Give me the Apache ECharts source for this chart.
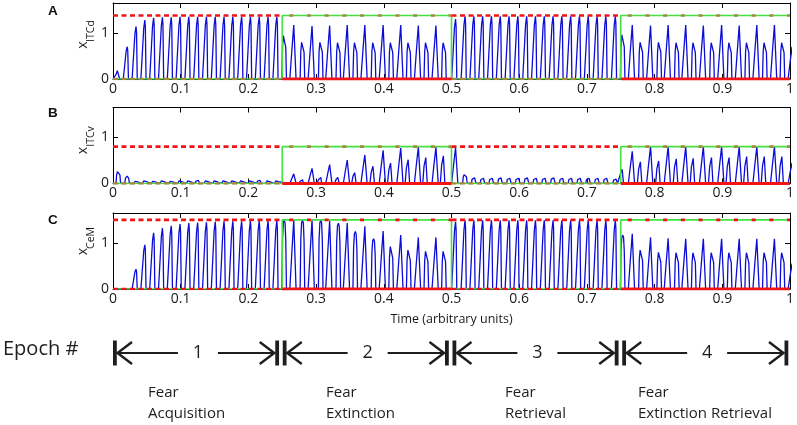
<!DOCTYPE html>
<html><head><meta charset="utf-8">
<script src="https://cdn.jsdelivr.net/npm/echarts@6/dist/echarts.min.js"></script>
<style>html,body{margin:0;padding:0;background:#fff}#c{width:797px;height:425px}</style>
</head><body><div id="c"></div>
<script>
// ---------- data ----------
const epochBounds = [0, 0.25, 0.5, 0.75, 1];
const epochNumbers = ['1', '2', '3', '4'];
const epochLine1 = ['Fear', 'Fear', 'Fear', 'Fear'];
const epochLine2 = ['Acquisition', 'Extinction', 'Retrieval', 'Extinction Retrieval'];
const xTickLabels = ['0', '0.1', '0.2', '0.3', '0.4', '0.5', '0.6', '0.7', '0.8', '0.9', '1'];
const yTickLabels = ['0', '1'];
const panelLetters = ['A', 'B', 'C'];
const panelYNames = ['ITCd', 'ITCv', 'CeM'];
const stimLevels = [1.38, 0.8, 1.5];
const xAxisTitle = 'Time (arbitrary units)';

// peak times of the activity pulses in each epoch
const ep1Times = [0.008,0.021,0.034,0.047,0.060,0.073,0.086,0.099,0.112,0.125,0.138,0.151,0.164,0.177,0.190,0.203,0.216,0.229,0.242];
const ep2Times = [0.253,0.267,0.280,0.294,0.307,0.320,0.333,0.346,0.358,0.372,0.385,0.399,0.411,0.425,0.437,0.451,0.463,0.477,0.489];
const ep3Times = [0.506,0.520,0.533,0.546,0.559,0.572,0.585,0.598,0.611,0.624,0.637,0.650,0.663,0.676,0.689,0.702,0.715,0.728,0.742];
const ep4Times = [0.753,0.767,0.780,0.794,0.807,0.820,0.833,0.846,0.858,0.872,0.885,0.899,0.911,0.925,0.937,0.951,0.963,0.977,0.989,1.003];

// peak heights, panel A (x_ITCd)
const aEp1 = [0.21,0.70,1.14,1.28,1.33,1.34,1.34,1.35,1.35,1.35,1.35,1.35,1.35,1.35,1.35,1.35,1.35,1.35,1.35];
const aEp2 = [0.98,1.17,0.83,1.15,0.83,1.16,0.82,1.17,0.82,1.17,0.82,1.17,0.82,1.17,0.82,1.16,0.82,1.16,0.82];
const aEp3 = [1.30,1.36,1.36,1.36,1.36,1.36,1.36,1.36,1.36,1.36,1.36,1.36,1.36,1.36,1.36,1.36,1.36,1.36,1.36];
const aEp4 = [1.00,1.17,0.83,1.16,0.83,1.17,0.82,1.17,0.82,1.16,0.82,1.17,0.82,1.16,0.82,1.17,0.82,1.17,0.82,0.70];
// panel B (x_ITCv)
const bEp1 = [0.27,0.16,0.05,0.06,0.05,0.06,0.05,0.06,0.06,0.07,0.06,0.06,0.06,0.06,0.06,0.06,0.07,0.06,0.06];
const bEp2 = [0.00,0.21,0.08,0.33,0.13,0.41,0.14,0.51,0.25,0.62,0.40,0.72,0.47,0.77,0.55,0.79,0.60,0.79,0.64];
const bEp3 = [0.78,0.20,0.13,0.12,0.12,0.13,0.12,0.12,0.13,0.12,0.12,0.13,0.12,0.12,0.12,0.12,0.12,0.12,0.10];
const bEp4 = [0.33,0.70,0.50,0.80,0.52,0.80,0.57,0.80,0.58,0.80,0.60,0.80,0.60,0.80,0.62,0.80,0.62,0.80,0.62,0.45];
// panel C (x_CeM)
const cEp1 = [0.00,0.00,0.43,0.96,1.22,1.32,1.37,1.41,1.43,1.44,1.45,1.46,1.47,1.47,1.47,1.48,1.48,1.48,1.48];
const cEp2 = [1.50,1.50,1.50,1.50,1.50,1.48,1.43,1.43,1.25,1.36,1.09,1.26,0.96,1.17,0.88,1.12,0.85,1.12,0.85];
const cEp3 = [1.46,1.49,1.49,1.49,1.49,1.49,1.49,1.49,1.49,1.49,1.49,1.49,1.49,1.49,1.49,1.49,1.49,1.49,1.49];
const cEp4 = [1.17,1.20,0.88,1.12,0.83,1.10,0.82,1.09,0.82,1.09,0.82,1.09,0.82,1.09,0.82,1.09,0.82,1.09,0.82,0.55];

// ---------- build ----------
const epochTimes = [ep1Times, ep2Times, ep3Times, ep4Times];
const panelHeights = [[aEp1, aEp2, aEp3, aEp4], [bEp1, bEp2, bEp3, bEp4], [cEp1, cEp2, cEp3, cEp4]];

// pulse outline templates: [time offset, fraction of peak]
const SHAPES = {
  S: [[-0.0058,0],[-0.0036,0.45],[-0.0016,0.86],[0,1],[0.0008,0.88],[0.0018,0]],
  T: [[-0.0058,0],[-0.003,0.5],[0,1],[0.0034,0]],
  H: [[-0.0036,0],[-0.0026,0.72],[-0.0014,0.96],[0,1],[0.0012,0.95],[0.0022,0.7],[0.0032,0]],
  D: [[-0.0055,0],[-0.0036,0.62],[-0.0026,0.56],[-0.0010,0.94],[0,1],[0.0012,0]]
};
function shapeFor(p, e, i) {
  if (e % 2 === 0) {
    if (p === 1) return (e === 2 && i === 0) ? 'T' : 'H';
    return 'S';
  }
  if (i % 2 === 1) return 'T';
  return p === 1 ? 'D' : 'H';
}
function traceData(p) {
  const pts = [[0, 0]];
  for (let e = 0; e < 4; e++) {
    const ts = epochTimes[e], hs = panelHeights[p][e];
    for (let i = 0; i < ts.length; i++) {
      const h = hs[i];
      if (!h) continue;
      SHAPES[shapeFor(p, e, i)].forEach(s => pts.push([ts[i] + s[0], h * s[1]]));
    }
  }
  pts.push([1.02, 0]);
  return pts;
}
function segs(level, parity) {
  const d = [];
  for (let e = 0; e < 4; e++) {
    if (e % 2 !== parity) continue;
    if (d.length) d.push([(epochBounds[e] + epochBounds[e - 1]) / 2, '-']);
    d.push([epochBounds[e], level], [epochBounds[e + 1], level]);
  }
  return d;
}
function stepData(level) {
  const d = [];
  for (let e = 0; e < 4; e++) {
    const v = e % 2 ? level : 0;
    d.push([epochBounds[e], v], [epochBounds[e + 1], v]);
  }
  return d;
}

const FONT = 'Open Sans';
const gridTops = [3, 107.5, 213];
const grids = [], xAxes = [], yAxes = [], series = [];
const RED = '#f01414', GREEN = '#44e044', OLIVE = '#a48a3a', BLUE = '#0c0cd8';

for (let p = 0; p < 3; p++) {
  grids.push({ left: 113, width: 679, top: gridTops[p], height: 76 });
  const common = {
    type: 'value', gridIndex: p, min: 0, max: 1, interval: 0.1,
    axisLine: { show: true, onZero: false, lineStyle: { color: '#000', width: 1 } },
    axisTick: { show: true, inside: true, length: 5, lineStyle: { color: '#000', width: 1 } },
    splitLine: { show: false }
  };
  xAxes.push(Object.assign({}, common, {
    position: 'bottom',
    axisLabel: { show: true, margin: 3, fontSize: 14, fontFamily: FONT, color: '#1a1a1a',
      formatter: v => xTickLabels[Math.round(v * 10)] },
    name: p === 2 ? xAxisTitle : '', nameLocation: 'middle', nameGap: 24,
    nameTextStyle: { fontSize: 12.5, fontFamily: FONT, color: '#1a1a1a' }
  }));
  xAxes.push(Object.assign({}, common, { position: 'top', axisLabel: { show: false } }));
  const ycommon = {
    type: 'value', gridIndex: p, min: 0, max: 1.65, interval: 1,
    axisLine: { show: true, onZero: false, lineStyle: { color: '#000', width: 1 } },
    axisTick: { show: true, inside: true, length: 5, lineStyle: { color: '#000', width: 1 } },
    splitLine: { show: false }
  };
  yAxes.push(Object.assign({}, ycommon, {
    position: 'left',
    axisLabel: { show: true, margin: 4, fontSize: 14, fontFamily: FONT, color: '#1a1a1a',
      formatter: v => (Math.abs(v - Math.round(v)) < 1e-9 && v < 1.5) ? yTickLabels[Math.round(v)] : '' }
  }));
  yAxes.push(Object.assign({}, ycommon, { position: 'right', axisLabel: { show: false } }));

  const xi = 2 * p, yi = 2 * p, L = stimLevels[p];
  const base = { type: 'line', xAxisIndex: xi, yAxisIndex: yi, showSymbol: false, symbol: 'none', animation: false, silent: true };
  series.push(Object.assign({}, base, { data: traceData(p), z: 3, lineStyle: { color: BLUE, width: 1.3 } }));
  series.push(Object.assign({}, base, { data: stepData(L), z: 4, lineStyle: { color: GREEN, width: 1.6 } }));
  series.push(Object.assign({}, base, { data: segs(L, 0), z: 5, lineStyle: { color: RED, width: 2.6, type: [5, 3.5] } }));
  series.push(Object.assign({}, base, { data: segs(0, 0), z: 5, lineStyle: { color: p === 2 ? RED : OLIVE, width: 2.6, type: [5, 3.5] } }));
  series.push(Object.assign({}, base, { data: segs(0, 1), z: 5, lineStyle: { color: RED, width: 3 } }));
  series.push(Object.assign({}, base, { data: segs(L, 1), z: 5, lineStyle: { color: p === 2 ? RED : OLIVE, width: 2.6, type: [4, 13.7], dashOffset: -7 } }));
}

// epoch arrow row
grids.push({ left: 113, width: 679, top: 330, height: 46 });
xAxes.push({ type: 'value', gridIndex: 3, min: 0, max: 1, show: false });
yAxes.push({ type: 'value', gridIndex: 3, min: 0, max: 1, show: false });
const INK = '#1e1e1e';
series.push({
  type: 'custom', xAxisIndex: 6, yAxisIndex: 6, animation: false, silent: true,
  data: epochNumbers.map((n, i) => [epochBounds[i], epochBounds[i + 1]]),
  renderItem: function (params, api) {
    const a = api.coord([api.value(0), 0.5]);
    const b = api.coord([api.value(1), 0.5]);
    const yc = a[1], x0 = a[0], x1 = b[0], mid = (x0 + x1) / 2;
    const ln = { stroke: INK, lineWidth: 2, fill: null };
    return {
      type: 'group',
      children: [
        { type: 'rect', shape: { x: x0, y: yc - 12.5, width: 3.8, height: 25 }, style: { fill: INK } },
        { type: 'rect', shape: { x: x1 - 7.5, y: yc - 12.5, width: 3.8, height: 25 }, style: { fill: INK } },
        { type: 'polyline', shape: { points: [[x0 + 19, yc - 11], [x0 + 4.5, yc], [x0 + 19, yc + 11]] }, style: { stroke: INK, lineWidth: 2.4, fill: null } },
        { type: 'polyline', shape: { points: [[x1 - 23, yc - 11], [x1 - 8.5, yc], [x1 - 23, yc + 11]] }, style: { stroke: INK, lineWidth: 2.4, fill: null } },
        { type: 'line', shape: { x1: x0 + 4.5, y1: yc, x2: mid - 20, y2: yc }, style: ln },
        { type: 'line', shape: { x1: mid + 20, y1: yc, x2: x1 - 8.5, y2: yc }, style: ln },
        { type: 'text', style: { text: epochNumbers[params.dataIndex], x: mid, y: yc, align: 'center', verticalAlign: 'middle', fontSize: 18, fontFamily: FONT, fill: INK } }
      ]
    };
  }
});

const descX = [148, 326, 505, 638];
const graphic = [
  { type: 'text', left: 3, top: 339, style: { text: 'Epoch #', fontSize: 20, fontFamily: FONT, fill: INK } }
];
panelLetters.forEach((t, i) => graphic.push({ type: 'text', left: 48, top: [4, 106.5, 213][i],
  style: { text: t, fontSize: 13.5, fontWeight: 'bold', fontFamily: 'Liberation Sans', fill: '#111' } }));
// y axis titles: "x" with a lowered subscript, rotated
const yNameX = [[45, 31], [150.5, 136.5], [251.5, 238]];
panelYNames.forEach((s, i) => {
  graphic.push({ type: 'text', x: 83, y: yNameX[i][0], rotation: Math.PI / 2,
    style: { text: 'x', fontSize: 14, fontFamily: FONT, fill: '#1a1a1a', align: 'center', verticalAlign: 'middle' } });
  graphic.push({ type: 'text', x: 91, y: yNameX[i][1], rotation: Math.PI / 2,
    style: { text: s, fontSize: 10.5, fontFamily: FONT, fill: '#1a1a1a', align: 'center', verticalAlign: 'middle' } });
});
epochLine1.forEach((t, i) => {
  graphic.push({ type: 'text', left: descX[i], top: 385, style: { text: t, fontSize: 15, fontFamily: FONT, fill: INK } });
  graphic.push({ type: 'text', left: descX[i], top: 406, style: { text: epochLine2[i], fontSize: 15, fontFamily: FONT, fill: INK } });
});

const chart = echarts.init(document.getElementById('c'), null, { renderer: 'canvas' });
chart.setOption({
  animation: false,
  backgroundColor: '#fff',
  grid: grids, xAxis: xAxes, yAxis: yAxes, series: series, graphic: graphic
});
</script></body></html>
